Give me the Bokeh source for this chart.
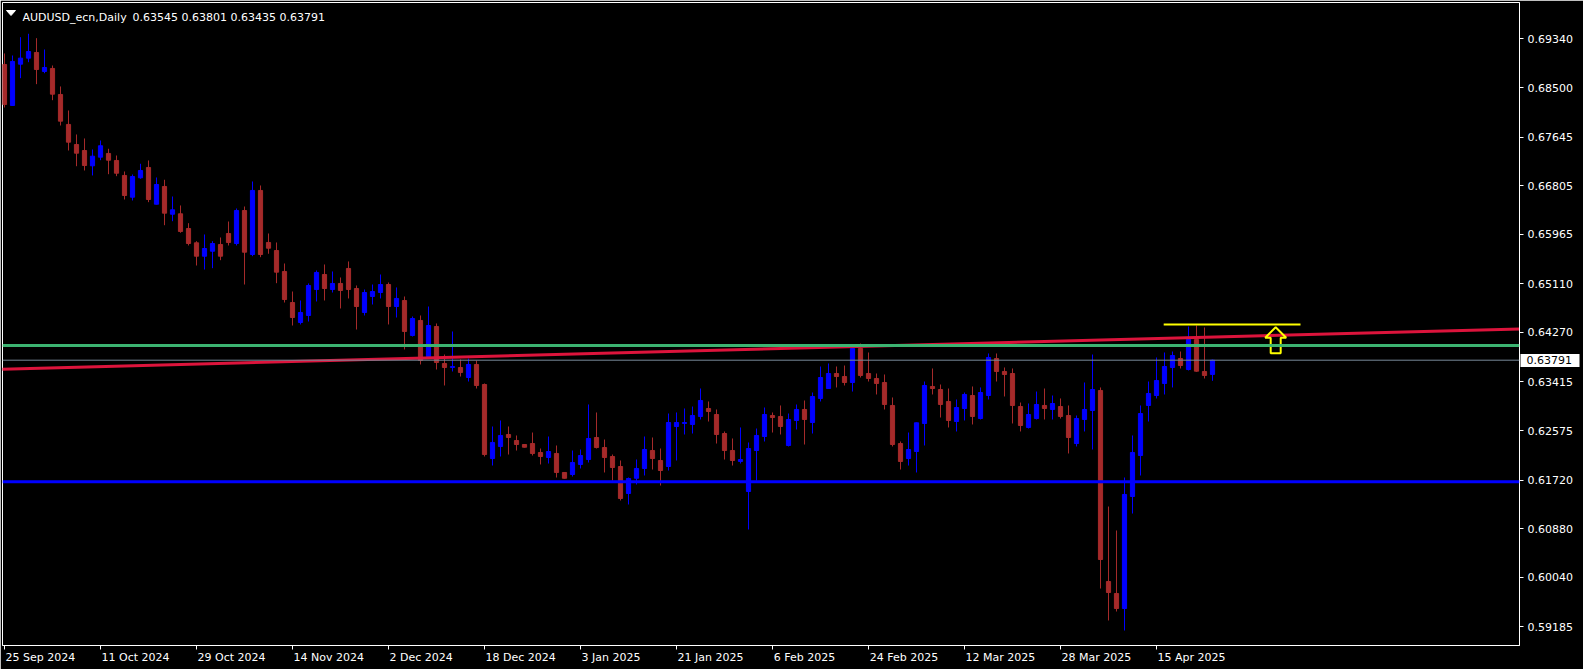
from bokeh.plotting import figure
from bokeh.models import (ColumnDataSource, FixedTicker, Span, Label, LinearAxis,
                          PrintfTickFormatter, Range1d)
from bokeh.embed import file_html
from bokeh.resources import INLINE

# ---------------- data (AUDUSD_ecn, Daily) ----------------
opens = [
    0.68898, 0.68190, 0.68903, 0.69007, 0.69105, 0.68777, 0.68829, 0.68380, 0.67862, 0.67516,
    0.67412, 0.67148, 0.67297, 0.67361, 0.67240, 0.66981, 0.66606, 0.66941, 0.67119, 0.66485,
    0.66791, 0.66312, 0.66319, 0.66065, 0.65818, 0.65587, 0.65673, 0.65789, 0.65979, 0.65806,
    0.66376, 0.65616, 0.66722, 0.65824, 0.65685, 0.65323, 0.64787, 0.64442, 0.64563, 0.65012,
    0.65271, 0.65012, 0.65116, 0.65375, 0.65029, 0.64615, 0.64891, 0.64960, 0.65098, 0.64718,
    0.64822, 0.64218, 0.64477, 0.63855, 0.64373, 0.63734, 0.63665, 0.63665, 0.63492, 0.63717,
    0.63371, 0.62093, 0.62301, 0.62508, 0.62404, 0.62335, 0.62352, 0.62197, 0.62111, 0.62180,
    0.61852, 0.61817, 0.61990, 0.62076, 0.62456, 0.62283, 0.62128, 0.61955, 0.61489, 0.61752,
    0.61921, 0.62231, 0.62059, 0.61955, 0.62646, 0.62698, 0.62681, 0.62819, 0.62957, 0.62853,
    0.62525, 0.62231, 0.62042, 0.61523, 0.62231, 0.62473, 0.62836, 0.62819, 0.62318, 0.62750,
    0.62940, 0.62715, 0.63130, 0.63302, 0.63561, 0.63509, 0.63406, 0.63993, 0.63561, 0.63475,
    0.63406, 0.63009, 0.62352, 0.62093, 0.62214, 0.62698, 0.63337, 0.63285, 0.63078, 0.62732,
    0.62957, 0.63181, 0.62784, 0.63181, 0.63820, 0.63596, 0.63561, 0.62991, 0.62629, 0.62784,
    0.63009, 0.62940, 0.62991, 0.62836, 0.62352, 0.62767, 0.62922, 0.63268, 0.59969, 0.59762,
    0.59503, 0.61437, 0.62145, 0.63009, 0.63181, 0.63389, 0.63665, 0.63820, 0.63630, 0.64148,
    0.63596, 0.63545]

highs = [
    0.69088, 0.69053, 0.69369, 0.69428, 0.69352, 0.69157, 0.68880, 0.68518, 0.68103, 0.67689,
    0.67620, 0.67430, 0.67585, 0.67442, 0.67326, 0.67050, 0.66998, 0.67183, 0.67240, 0.66946,
    0.66907, 0.66618, 0.66463, 0.66157, 0.65846, 0.65962, 0.65846, 0.65910, 0.66186, 0.66411,
    0.66445, 0.66877, 0.66808, 0.65979, 0.65824, 0.65461, 0.64977, 0.64822, 0.65116, 0.65340,
    0.65444, 0.65323, 0.65219, 0.65496, 0.65081, 0.65012, 0.65098, 0.65271, 0.65133, 0.65047,
    0.64891, 0.64546, 0.64563, 0.64718, 0.64425, 0.63889, 0.64287, 0.63803, 0.63820, 0.63786,
    0.63389, 0.62646, 0.62750, 0.62646, 0.62491, 0.62340, 0.62542, 0.62266, 0.62473, 0.62318,
    0.61856, 0.62231, 0.62249, 0.63026, 0.62888, 0.62421, 0.62162, 0.62059, 0.61765, 0.62076,
    0.62473, 0.62456, 0.62266, 0.62870, 0.62888, 0.62957, 0.62991, 0.63302, 0.63078, 0.62940,
    0.62560, 0.62439, 0.62629, 0.62370, 0.62611, 0.62974, 0.62888, 0.63009, 0.62870, 0.63026,
    0.63095, 0.63233, 0.63682, 0.63734, 0.63682, 0.63699, 0.64045, 0.64079, 0.63924, 0.63561,
    0.63544, 0.63147, 0.62387, 0.62542, 0.62715, 0.63423, 0.63648, 0.63371, 0.63302, 0.63112,
    0.63233, 0.63337, 0.63320, 0.63907, 0.63907, 0.63665, 0.63648, 0.63060, 0.63043, 0.63250,
    0.63302, 0.63181, 0.63130, 0.63009, 0.62836, 0.63406, 0.63889, 0.63320, 0.61264, 0.60850,
    0.61765, 0.62491, 0.63009, 0.63423, 0.63838, 0.63924, 0.63941, 0.63941, 0.64373, 0.64390,
    0.64356, 0.63801]

lows = [
    0.68155, 0.68185, 0.68661, 0.68937, 0.68558, 0.68747, 0.68281, 0.67844, 0.67412, 0.67141,
    0.67067, 0.66981, 0.67245, 0.67003, 0.66969, 0.66566, 0.66549, 0.66924, 0.66520, 0.66480,
    0.66122, 0.66191, 0.65991, 0.65772, 0.65426, 0.65357, 0.65380, 0.65518, 0.65772, 0.65772,
    0.65098, 0.65587, 0.65570, 0.65629, 0.65121, 0.64787, 0.64390, 0.64408, 0.64459, 0.64805,
    0.64822, 0.64960, 0.64684, 0.64857, 0.64321, 0.64563, 0.64753, 0.64857, 0.64408, 0.64528,
    0.63976, 0.64200, 0.63717, 0.63838, 0.63630, 0.63354, 0.63596, 0.63509, 0.63423, 0.63302,
    0.62128, 0.61972, 0.62128, 0.62162, 0.62231, 0.62283, 0.62145, 0.61990, 0.62007, 0.61765,
    0.61748, 0.61782, 0.61921, 0.62024, 0.62266, 0.61852, 0.61713, 0.61368, 0.61299, 0.61644,
    0.61800, 0.61903, 0.61627, 0.61886, 0.62059, 0.62508, 0.62525, 0.62767, 0.62732, 0.62352,
    0.62076, 0.61972, 0.62007, 0.60867, 0.61713, 0.62387, 0.62542, 0.62508, 0.62301, 0.62594,
    0.62335, 0.62525, 0.63078, 0.63297, 0.63320, 0.63354, 0.63250, 0.63492, 0.63423, 0.63199,
    0.62940, 0.62301, 0.61903, 0.61972, 0.61852, 0.62318, 0.63199, 0.62801, 0.62629, 0.62560,
    0.62750, 0.62681, 0.62767, 0.63112, 0.63423, 0.63164, 0.62698, 0.62560, 0.62611, 0.62767,
    0.62767, 0.62767, 0.62784, 0.62180, 0.62301, 0.62560, 0.62249, 0.59848, 0.59296, 0.59451,
    0.59123, 0.61143, 0.61800, 0.62732, 0.63130, 0.63199, 0.63320, 0.63648, 0.63613, 0.63590,
    0.63475, 0.63435]

closes = [
    0.68207, 0.68950, 0.69007, 0.69122, 0.68811, 0.68846, 0.68385, 0.67919, 0.67556, 0.67366,
    0.67153, 0.67314, 0.67494, 0.67245, 0.67020, 0.66635, 0.66963, 0.67067, 0.66566, 0.66825,
    0.66330, 0.66388, 0.66014, 0.65806, 0.65587, 0.65720, 0.65806, 0.65587, 0.65824, 0.66376,
    0.65656, 0.66722, 0.65616, 0.65725, 0.65311, 0.64839, 0.64528, 0.64615, 0.65081, 0.65306,
    0.65029, 0.65116, 0.64995, 0.65012, 0.64718, 0.64960, 0.64977, 0.65098, 0.64718, 0.64857,
    0.64287, 0.64511, 0.63786, 0.64390, 0.63751, 0.63665, 0.63682, 0.63579, 0.63717, 0.63354,
    0.62162, 0.62370, 0.62491, 0.62456, 0.62335, 0.62288, 0.62180, 0.62128, 0.62214, 0.61852,
    0.61752, 0.62024, 0.62145, 0.62439, 0.62283, 0.62111, 0.61938, 0.61403, 0.61748, 0.61921,
    0.62249, 0.62093, 0.61886, 0.62715, 0.62715, 0.62715, 0.62836, 0.63095, 0.62905, 0.62508,
    0.62231, 0.62059, 0.62076, 0.62266, 0.62491, 0.62853, 0.62801, 0.62646, 0.62767, 0.62940,
    0.62767, 0.63164, 0.63492, 0.63561, 0.63509, 0.63406, 0.63993, 0.63527, 0.63475, 0.63389,
    0.63026, 0.62335, 0.62042, 0.62249, 0.62710, 0.63354, 0.63302, 0.63026, 0.62750, 0.62974,
    0.63199, 0.62819, 0.63233, 0.63838, 0.63596, 0.63544, 0.63009, 0.62663, 0.62853, 0.63026,
    0.62957, 0.63043, 0.62819, 0.62456, 0.62784, 0.62940, 0.63285, 0.60349, 0.59779, 0.59503,
    0.61472, 0.62197, 0.62870, 0.63216, 0.63440, 0.63682, 0.63872, 0.63699, 0.64148, 0.63601,
    0.63527, 0.63791]

date_bar_index = [0, 12, 24, 36, 48, 60, 72, 84, 96, 108, 120, 132, 144]
date_labels = ["25 Sep 2024", "11 Oct 2024", "29 Oct 2024", "14 Nov 2024", "2 Dec 2024",
               "18 Dec 2024", "3 Jan 2025", "21 Jan 2025", "6 Feb 2025", "24 Feb 2025",
               "12 Mar 2025", "28 Mar 2025", "15 Apr 2025"]

price_ticks = [0.69340, 0.68500, 0.67645, 0.66805, 0.65965, 0.65110, 0.64270,
               0.63415, 0.62575, 0.61720, 0.60880, 0.60040, 0.59185]

symbol = "AUDUSD_ecn,Daily"
green_level = 0.64045        # horizontal resistance
blue_level = 0.61691         # horizontal support
trend_bars = [-1, 190]       # rising trend line (ray)
trend_prices = [0.63632, 0.64333]
yellow_level = 0.64408       # recent high marker
yellow_bars = [144.9, 162.0]
arrow_bar = 158.9            # up arrow anchor (tip)
arrow_tip_price = 0.64361

# ---------------- layout ----------------
FONT = "DejaVu Sans"
BULL = "#0000FF"
BEAR = "#A52A2A"
W, H = 1583, 669
FL, FT = 2, 2                 # frame left / top offsets
FW, FH = 1517, 643            # frame size
BAR_PX = 8.0
X0 = -0.25
X1 = X0 + FW / BAR_PX
Y0, Y1 = 0.58864, 0.69968

p = figure(width=W, height=H, output_backend="svg", toolbar_location=None,
           x_range=Range1d(X0, X1), y_range=Range1d(Y0, Y1),
           y_axis_location="right",
           min_border_left=FL, min_border_top=FT,
           min_border_right=W - FL - FW, min_border_bottom=H - FT - FH)
p.background_fill_color = "black"
p.border_fill_color = "black"
p.outline_line_color = "white"
p.outline_line_width = 1
p.xgrid.visible = False
p.ygrid.visible = False

px_x = (X1 - X0) / FW        # data units per screen pixel
px_y = (Y1 - Y0) / FH

n = min(len(opens), len(highs), len(lows), len(closes))
idx = list(range(n))
bull = [closes[i] >= opens[i] for i in idx]
src = ColumnDataSource(dict(
    x=idx,
    high=highs[:n], low=lows[:n],
    top=[max(opens[i], closes[i]) for i in idx],
    bottom=[min(opens[i], closes[i]) for i in idx],
    color=[BULL if b else BEAR for b in bull],
))

p.segment(x0="x", y0="low", x1="x", y1="high", source=src, line_color="color", line_width=1)
p.vbar(x="x", width=0.52, top="top", bottom="bottom", source=src,
       fill_color="color", line_color="color", line_width=1)

# trend line
p.line(trend_bars, trend_prices, line_color="#DC143C", line_width=3)

# horizontal levels
p.add_layout(Span(location=green_level, dimension="width", line_color="#3CB371", line_width=3))
p.add_layout(Span(location=blue_level, dimension="width", line_color="#0000FF", line_width=3))
p.add_layout(Span(location=closes[n - 1], dimension="width", line_color="#778899", line_width=1))

# yellow high line
p.line(yellow_bars, [yellow_level, yellow_level], line_color="#FFFF00", line_width=2)

# yellow hollow up arrow (shape offsets in pixels, converted to data units)
shape = [(0, 0), (10.5, -10.5), (5, -10.5), (5, -26), (-5, -26), (-5, -10.5), (-10.5, -10.5)]
p.patch([arrow_bar + dx * px_x for dx, dy in shape],
        [arrow_tip_price + dy * px_y for dx, dy in shape],
        fill_color=None, line_color="#FFFF00", line_width=2)

# small white menu triangle of the header (pixel offsets from the frame's top-left)
tri = [(4, 8), (13, 8), (8.5, 13)]
p.patch([X0 + tx * px_x for tx, ty in tri], [Y1 - ty * px_y for tx, ty in tri],
        fill_color="white", line_color="white", line_width=1)


def style(ax):
    ax.axis_line_color = "white"
    ax.major_tick_line_color = "white"
    ax.major_tick_out = 4
    ax.major_tick_in = 0
    ax.minor_tick_line_color = None
    ax.major_label_text_color = "white"
    ax.major_label_text_font = FONT
    ax.major_label_text_font_size = "11px"


# approximate DejaVu Sans advance widths (em) to shift centred labels right
EM = {" ": 0.318, "S": 0.635, "e": 0.615, "p": 0.635, "O": 0.787, "c": 0.550, "t": 0.392,
      "N": 0.748, "o": 0.612, "v": 0.592, "D": 0.770, "J": 0.295, "a": 0.613, "n": 0.634,
      "F": 0.575, "b": 0.635, "M": 0.863, "r": 0.411, "A": 0.684}


def text_px(s, size=11.0):
    return sum(EM.get(ch, 0.636) for ch in s) * size


# ---- bottom: tick marks (minor ticks) at the bars, labels starting at the tick ----
label_pos = [round(i + (text_px(s) / 2 + 1) / BAR_PX, 3) for i, s in zip(date_bar_index, date_labels)]
xa = p.xaxis[0]
style(xa)
xa.ticker = FixedTicker(ticks=label_pos, minor_ticks=date_bar_index)
xa.major_label_overrides = {v: s for v, s in zip(label_pos, date_labels)}
xa.major_tick_line_color = None
xa.minor_tick_line_color = "white"
xa.minor_tick_out = 4
xa.minor_tick_in = 0
xa.major_label_standoff = 1

# ---- right: price scale ----
ya = p.yaxis[0]
style(ya)
ya.ticker = FixedTicker(ticks=price_ticks)
ya.formatter = PrintfTickFormatter(format="%.5f")
ya.major_label_standoff = 4

# current price tag: a thick white tick drawn back over the price scale, black label on it
MAIN_W = 4 + 4 + text_px("0.69340")          # width of the price-scale panel
tag = LinearAxis(ticker=FixedTicker(ticks=[closes[n - 1]]),
                 formatter=PrintfTickFormatter(format="%.5f"))
tag.axis_line_color = None
tag.minor_tick_line_color = None
tag.major_tick_line_color = "white"
tag.major_tick_line_width = 13
tag.major_tick_in = int(round(MAIN_W - 2))
tag.major_tick_out = 4
tag.major_label_text_color = "black"
tag.major_label_text_font = FONT
tag.major_label_text_font_size = "11px"
tag.major_label_standoff = -int(round(MAIN_W + 4 - 8))
p.add_layout(tag, "right")

# header texts
p.add_layout(Label(x=20, y=FH - 15, x_units="screen", y_units="screen", text=symbol,
                   text_color="white", text_font=FONT, text_font_size="11px",
                   text_baseline="alphabetic"))
p.add_layout(Label(x=130, y=FH - 15, x_units="screen", y_units="screen",
                   text="%.5f %.5f %.5f %.5f" % (opens[n - 1], highs[n - 1],
                                                 lows[n - 1], closes[n - 1]),
                   text_color="white", text_font=FONT, text_font_size="11px",
                   text_baseline="alphabetic"))

html = file_html(p, INLINE)
html = html.replace("<body>", '<body style="background-color:#000000;">', 1)
open("out.html", "w").write(html)
